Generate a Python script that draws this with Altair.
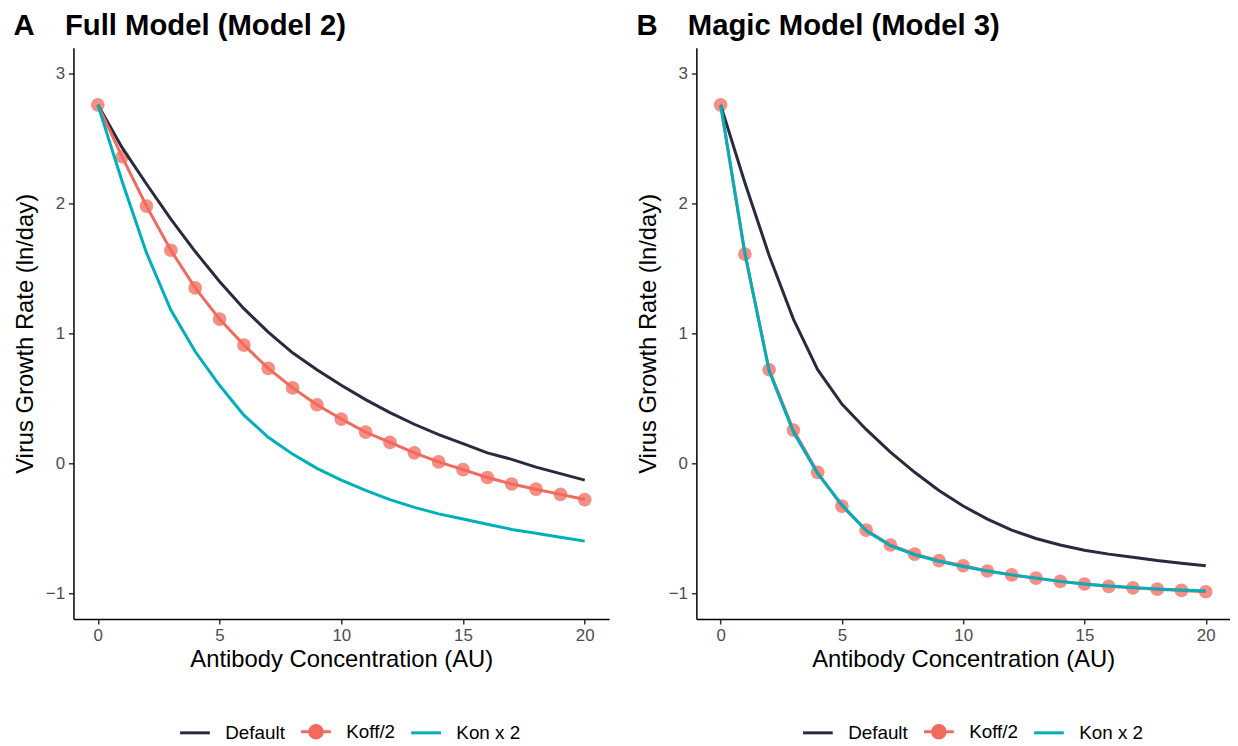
import altair as alt
import pandas as pd

x_vals = list(range(21))
series_names = ["Default", "Koff/2", "Kon x 2"]
series_colors = ["#262B3D", "#F2695E", "#00AFBB"]
x_ticks = [0, 5, 10, 15, 20]
y_ticks = [-1, 0, 1, 2, 3]

# Panel A: Full Model (Model 2)
full_default = [2.76, 2.43, 2.15, 1.88, 1.63, 1.40, 1.19, 1.01, 0.85, 0.72, 0.60,
                0.49, 0.39, 0.30, 0.22, 0.15, 0.08, 0.03, -0.03, -0.08, -0.13]
full_koff = [2.76, 2.36, 1.98, 1.64, 1.35, 1.11, 0.91, 0.73, 0.58, 0.45, 0.34,
             0.24, 0.16, 0.08, 0.01, -0.05, -0.11, -0.16, -0.20, -0.24, -0.28]
full_kon = [2.76, 2.17, 1.62, 1.18, 0.86, 0.60, 0.37, 0.20, 0.07, -0.04, -0.13,
            -0.21, -0.28, -0.34, -0.39, -0.43, -0.47, -0.51, -0.54, -0.57, -0.60]

# Panel B: Magic Model (Model 3)
magic_default = [2.76, 2.16, 1.60, 1.11, 0.72, 0.455, 0.26, 0.085, -0.07, -0.21, -0.33,
                 -0.43, -0.515, -0.58, -0.63, -0.67, -0.70, -0.725, -0.75, -0.77, -0.79]
magic_koff = [2.76, 1.61, 0.72, 0.255, -0.07, -0.33, -0.515, -0.63, -0.70, -0.75, -0.79,
              -0.83, -0.86, -0.885, -0.91, -0.93, -0.948, -0.96, -0.97, -0.98, -0.99]
magic_kon = [2.76, 1.62, 0.71, 0.24, -0.08, -0.32, -0.52, -0.635, -0.705, -0.755, -0.795,
             -0.83, -0.86, -0.885, -0.91, -0.93, -0.945, -0.958, -0.968, -0.977, -0.985]

FONT = "Liberation Sans"
legend_shapes = [
    "stroke",
    "M-1,0L1,0M-0.42,0A0.42,0.42,0,1,1,0.42,0A0.42,0.42,0,1,1,-0.42,0Z",
    "stroke",
]
PLOT_H = 576
GAP = "\u00a0\u00a0\u00a0\u2009"


def make_df(default, koff, kon):
    rows = []
    for name, vals in zip(series_names, [default, koff, kon]):
        for x, y in zip(x_vals, vals):
            rows.append({"series": name, "x": x, "y": y})
    return pd.DataFrame(rows)


def panel(df, title_text, w):
    xs = alt.X("x:Q", scale=alt.Scale(domain=[-1, 21], nice=False, zero=False),
               axis=alt.Axis(values=x_ticks, title="Antibody Concentration (AU)"))
    ys = alt.Y("y:Q", scale=alt.Scale(domain=[-1.2, 3.2], nice=False, zero=False),
               axis=alt.Axis(values=y_ticks, title="Virus Growth Rate (ln/day)"))
    color = alt.Color("series:N", scale=alt.Scale(range=series_colors), legend=None)
    base = alt.Chart(df)
    pts = base.transform_filter(alt.datum.series == "Koff/2").mark_point(
        filled=True, size=190, opacity=0.75, strokeWidth=0
    ).encode(x=xs, y=ys, color=color)
    lines = base.mark_line(strokeWidth=3).encode(x=xs, y=ys, color=color)
    leg = dict(orient="none", direction="horizontal", title=None,
               legendX=106, legendY=PLOT_H + 97)
    legend_layer = base.transform_filter("false").mark_point(filled=True).encode(
        x=xs, y=ys,
        fill=alt.Fill("series:N", scale=alt.Scale(domain=series_names, range=series_colors),
                      legend=alt.Legend(**leg)),
        stroke=alt.Stroke("series:N", scale=alt.Scale(domain=series_names, range=series_colors),
                          legend=alt.Legend(**leg)),
        shape=alt.Shape("series:N", scale=alt.Scale(domain=series_names, range=legend_shapes),
                        legend=alt.Legend(**leg)),
    )
    return alt.layer(pts, lines, legend_layer).properties(
        width=w, height=PLOT_H,
        title=alt.TitleParams(text=title_text, anchor="start", frame="bounds",
                              fontSize=29.5, font=FONT, fontWeight="bold", color="black",
                              offset=6),
    )


left = panel(make_df(full_default, full_koff, full_kon),
             "A" + GAP + "Full Model (Model 2)", 540)
right = panel(make_df(magic_default, magic_koff, magic_kon),
              "B" + GAP + "Magic Model (Model 3)", 538)

chart = alt.hconcat(left, right, spacing=27).resolve_scale(
    color="independent", fill="independent", stroke="independent", shape="independent"
).resolve_legend(
    fill="independent", stroke="independent", shape="independent"
).properties(
    padding={"left": 5, "top": 0, "right": 0, "bottom": 0}
).configure(font=FONT).configure_view(stroke=None).configure_axis(
    grid=False,
    domainColor="black", domainWidth=1.5,
    tickColor="#333333", tickWidth=1.5, tickSize=5,
    labelColor="#4D4D4D", labelFontSize=17, labelFont=FONT, labelPadding=4,
    titleFontSize=24, titleFont=FONT, titleFontWeight="normal", titleColor="black",
).configure_axisY(titlePadding=8).configure_axisX(titlePadding=4).configure_legend(
    labelFontSize=19, labelFont=FONT, labelColor="black",
    symbolSize=900, symbolStrokeWidth=3, symbolOpacity=1, labelOffset=14, columnPadding=9,
)

chart.save("out.html", embed_options={"renderer": "svg", "actions": False})
